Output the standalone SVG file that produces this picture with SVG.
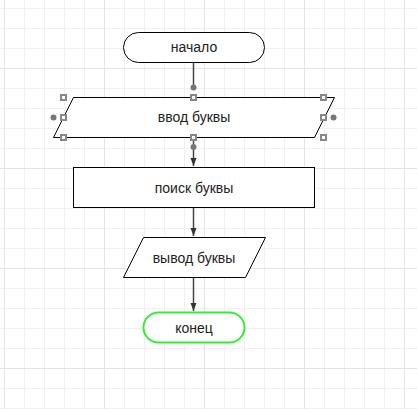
<svg xmlns="http://www.w3.org/2000/svg" width="417" height="409" viewBox="0 0 417 409">
<defs>
<pattern id="minor" x="4" y="8" width="20" height="20" patternUnits="userSpaceOnUse">
<path d="M0.5 0V20M0 0.5H20" stroke="#f0f0f0" stroke-width="1" fill="none"/>
</pattern>
<pattern id="major" x="4" y="68" width="100" height="100" patternUnits="userSpaceOnUse">
<path d="M0.5 0V100M0 0.5H100" stroke="#e4e4e4" stroke-width="1" fill="none"/>
</pattern>
<marker id="arr" viewBox="0 0 8 8" refX="8" refY="4" markerWidth="8" markerHeight="8" markerUnits="userSpaceOnUse" orient="auto">
<path d="M0 1L8 4L0 7Z" fill="#333"/>
</marker>
</defs>
<style>
.shape{fill:#fff;stroke:#000;stroke-width:1}
.lbl{font-family:"Liberation Sans",Arial,sans-serif;font-size:14px;fill:#222;text-anchor:middle;dominant-baseline:central}
.conn{stroke:#444;stroke-width:1.5;fill:none}
.h{fill:#fff;stroke:#888;stroke-width:2}
.d{fill:#777}
</style>
<rect width="417" height="409" fill="#fff"/>
<rect width="417" height="409" fill="url(#minor)"/>
<rect width="417" height="409" fill="url(#major)"/>
<g id="connectors">
<path class="conn" d="M193.5 63V88"/>
<path class="conn" d="M193.5 137V166" marker-end="url(#arr)"/>
<path class="conn" d="M193.5 208V236" marker-end="url(#arr)"/>
<path class="conn" d="M193.5 278V311" marker-end="url(#arr)"/>
</g>
<g id="start">
<rect class="shape" x="123.5" y="32.5" width="141" height="30" rx="15"/>
<text class="lbl" x="194" y="47">начало</text>
</g>
<g id="input">
<path class="shape" d="M73.5 97.5H334.5L314.5 137.5H53.5Z"/>
<text class="lbl" x="194" y="117">ввод буквы</text>
<g id="selection">
<rect class="h" x="61" y="95" width="5" height="5"/>
<rect class="h" x="191" y="95" width="5" height="5"/>
<rect class="h" x="321" y="95" width="5" height="5"/>
<rect class="h" x="61" y="115" width="5" height="5"/>
<rect class="h" x="321" y="115" width="5" height="5"/>
<rect class="h" x="61" y="135" width="5" height="5"/>
<rect class="h" x="191" y="135" width="5" height="5"/>
<rect class="h" x="321" y="135" width="5" height="5"/>
<circle class="d" cx="193.5" cy="87.5" r="3"/>
<circle class="d" cx="193.5" cy="147" r="3"/>
<circle class="d" cx="53.5" cy="117.5" r="3"/>
<circle class="d" cx="333.5" cy="117.5" r="3"/>
</g>
</g>
<g id="search">
<rect class="shape" x="73.5" y="167.5" width="241" height="40"/>
<text class="lbl" x="194" y="187.5">поиск буквы</text>
</g>
<g id="output">
<path class="shape" d="M143.5 237.5H265.5L245.5 277.5H123.5Z"/>
<text class="lbl" x="194" y="257.5">вывод буквы</text>
</g>
<g id="end">
<rect x="143.5" y="312.5" width="101" height="30" rx="15" fill="#fff" stroke="#33ee33" stroke-width="2"/>
<text class="lbl" x="194" y="327.5">конец</text>
</g>
</svg>
